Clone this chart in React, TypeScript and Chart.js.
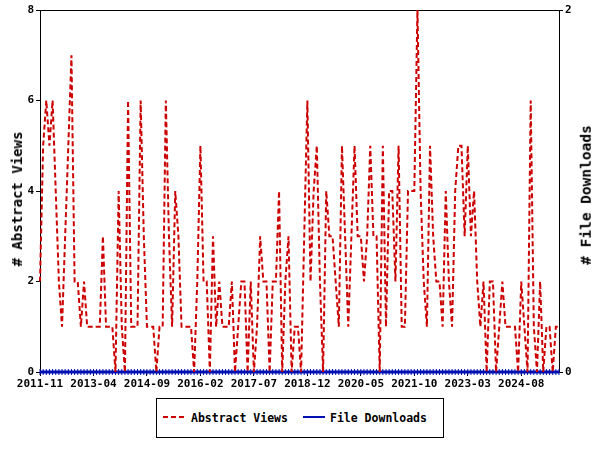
import React, { useEffect, useRef } from 'react';
import { Chart, registerables } from 'chart.js';

Chart.register(...registerables);

// Monthly values starting at 2011-11
const START_YEAR = 2011;
const START_MONTH = 11;

const abstractViews: number[] = [
  2, 5, 6, 5, 6, 4, 2, 1, 3, 5,
  7, 2, 2, 1, 2, 1, 1, 1, 1, 1,
  3, 1, 1, 1, 0, 4, 1, 0, 6, 1,
  1, 1, 6, 3, 1, 1, 1, 0, 1, 1,
  6, 3, 1, 4, 3, 1, 1, 1, 1, 0,
  2, 5, 2, 2, 0, 3, 1, 2, 1, 1,
  1, 2, 0, 1, 2, 2, 0, 2, 0, 1,
  3, 2, 2, 0, 2, 2, 4, 0, 2, 3,
  0, 1, 1, 0, 3, 6, 2, 4, 5, 2,
  0, 4, 3, 3, 2, 1, 5, 3, 1, 3,
  5, 3, 3, 2, 3, 5, 3, 3, 0, 5,
  1, 4, 4, 2, 5, 1, 1, 4, 4, 4,
  8, 4, 2, 1, 5, 3, 2, 2, 1, 4,
  2, 1, 4, 5, 5, 3, 5, 3, 4, 2,
  1, 2, 0, 2, 2, 0, 1, 2, 1, 1,
  1, 1, 0, 2, 1, 0, 6, 1, 0, 2,
  0, 1, 1, 0, 1, 1,
];

const fileDownloads: number[] = [
  0, 0, 0, 0, 0, 0, 0, 0, 0, 0,
  0, 0, 0, 0, 0, 0, 0, 0, 0, 0,
  0, 0, 0, 0, 0, 0, 0, 0, 0, 0,
  0, 0, 0, 0, 0, 0, 0, 0, 0, 0,
  0, 0, 0, 0, 0, 0, 0, 0, 0, 0,
  0, 0, 0, 0, 0, 0, 0, 0, 0, 0,
  0, 0, 0, 0, 0, 0, 0, 0, 0, 0,
  0, 0, 0, 0, 0, 0, 0, 0, 0, 0,
  0, 0, 0, 0, 0, 0, 0, 0, 0, 0,
  0, 0, 0, 0, 0, 0, 0, 0, 0, 0,
  0, 0, 0, 0, 0, 0, 0, 0, 0, 0,
  0, 0, 0, 0, 0, 0, 0, 0, 0, 0,
  0, 0, 0, 0, 0, 0, 0, 0, 0, 0,
  0, 0, 0, 0, 0, 0, 0, 0, 0, 0,
  0, 0, 0, 0, 0, 0, 0, 0, 0, 0,
  0, 0, 0, 0, 0, 0, 0, 0, 0, 0,
  0, 0, 0, 0, 0, 0,
];

const months: string[] = abstractViews.map((_, i) => {
  const m = START_MONTH - 1 + i;
  const y = START_YEAR + Math.floor(m / 12);
  const mm = (m % 12) + 1;
  return `${y}-${String(mm).padStart(2, '0')}`;
});

const xTickLabels: string[] = [
  '2011-11', '2013-04', '2014-09', '2016-02', '2017-07',
  '2018-12', '2020-05', '2021-10', '2023-03', '2024-08',
];
const leftTicks: number[] = [0, 2, 4, 6, 8];
const rightTicks: number[] = [0, 2];

const RED = '#cc0000';
const BLUE = '#0010b0';
const MONO = "'DejaVu Sans Mono', monospace";

const framePlugin = {
  id: 'frame',
  beforeDatasetsDraw(chart: any) {
    const { ctx, chartArea } = chart;
    ctx.save();
    ctx.strokeStyle = '#000';
    ctx.lineWidth = 1;
    ctx.strokeRect(
      Math.round(chartArea.left) + 0.5,
      Math.round(chartArea.top) + 0.5,
      Math.round(chartArea.right - chartArea.left),
      Math.round(chartArea.bottom - chartArea.top)
    );
    ctx.restore();
  },
};

export default function App() {
  const ref = useRef<HTMLCanvasElement | null>(null);

  useEffect(() => {
    if (!ref.current) return;
    const tickFont = { family: MONO, size: 11, weight: 'bold' as const };
    const chart = new Chart(ref.current, {
      type: 'line',
      data: {
        labels: months,
        datasets: [
          {
            label: 'Abstract Views',
            data: abstractViews,
            yAxisID: 'y',
            borderColor: RED,
            backgroundColor: RED,
            borderWidth: 2,
            borderDash: [5, 3],
            pointRadius: 0,
            tension: 0,
            fill: false,
          },
          {
            label: 'File Downloads',
            data: fileDownloads,
            yAxisID: 'y1',
            borderColor: BLUE,
            backgroundColor: BLUE,
            borderWidth: 3,
            pointStyle: 'line',
            pointRotation: 90,
            pointRadius: 3,
            pointBorderWidth: 1,
            pointBorderColor: BLUE,
            tension: 0,
            fill: false,
            clip: false,
          },
        ],
      },
      options: {
        animation: false,
        responsive: false,
        maintainAspectRatio: false,
        layout: { padding: { top: 10, bottom: 48, left: 0, right: 0 } },
        plugins: {
          legend: { display: false },
          tooltip: { enabled: false },
        },
        scales: {
          x: {
            type: 'category',
            offset: false,
            border: { color: '#000', width: 1 },
            grid: { drawOnChartArea: false, drawTicks: true, tickLength: 4, color: '#000' },
            ticks: {
              autoSkip: false,
              maxRotation: 0,
              minRotation: 0,
              padding: 2,
              color: '#000',
              font: tickFont,
              callback: function (this: any, v: any) {
                const l = this.getLabelForValue(v);
                return xTickLabels.includes(l) ? l : null;
              },
            },
            afterFit: (s: any) => {
              s.height = 30;
            },
          },
          y: {
            position: 'left',
            min: 0,
            max: 8,
            border: { color: '#000', width: 1 },
            grid: { drawOnChartArea: false, tickLength: 4, color: '#000' },
            afterBuildTicks: (s: any) => {
              s.ticks = leftTicks.map((v) => ({ value: v }));
            },
            ticks: { color: '#000', font: tickFont, padding: 2 },
            afterFit: (s: any) => {
              s.width = 40;
            },
          },
          y1: {
            position: 'right',
            min: 0,
            max: 2,
            border: { color: '#000', width: 1 },
            grid: { drawOnChartArea: false, tickLength: 4, color: '#000' },
            afterBuildTicks: (s: any) => {
              s.ticks = rightTicks.map((v) => ({ value: v }));
            },
            ticks: { color: '#000', font: tickFont, padding: 2 },
            afterFit: (s: any) => {
              s.width = 41;
            },
          },
        },
      },
      plugins: [framePlugin],
    } as any);
    return () => chart.destroy();
  }, []);

  const titleStyle: React.CSSProperties = {
    position: 'absolute',
    transform: 'translate(-50%, -50%) rotate(-90deg)',
    whiteSpace: 'nowrap',
    fontFamily: MONO,
    fontWeight: 'bold',
    fontSize: 14,
    color: '#000',
    lineHeight: 1,
  };
  const legendText: React.CSSProperties = {
    position: 'absolute',
    top: 11,
    fontFamily: MONO,
    fontWeight: 'bold',
    fontSize: 11.5,
    lineHeight: '16px',
    color: '#000',
    whiteSpace: 'nowrap',
  };

  return (
    <div style={{ position: 'absolute', left: 0, top: 0, width: 600, height: 450, background: '#fff' }}>
      <canvas ref={ref} width={600} height={450} style={{ display: 'block', width: 600, height: 450 }} />
      <div style={{ ...titleStyle, left: 17, top: 199 }}># Abstract Views</div>
      <div style={{ ...titleStyle, left: 586, top: 195, fontSize: 14.5 }}># File Downloads</div>
      <div
        style={{
          position: 'absolute',
          left: 156,
          top: 398,
          width: 286,
          height: 38,
          border: '1px solid #000',
          background: '#fff',
        }}
      >
        <svg style={{ position: 'absolute', left: 6, top: 16 }} width={22} height={4}>
          <line x1={0} y1={2} x2={21} y2={2} stroke={RED} strokeWidth={2} strokeDasharray="5,3" />
        </svg>
        <span style={{ ...legendText, left: 34 }}>Abstract Views</span>
        <svg style={{ position: 'absolute', left: 146, top: 16 }} width={23} height={4}>
          <line x1={0} y1={2} x2={22} y2={2} stroke={BLUE} strokeWidth={2} />
        </svg>
        <span style={{ ...legendText, left: 173 }}>File Downloads</span>
      </div>
    </div>
  );
}
